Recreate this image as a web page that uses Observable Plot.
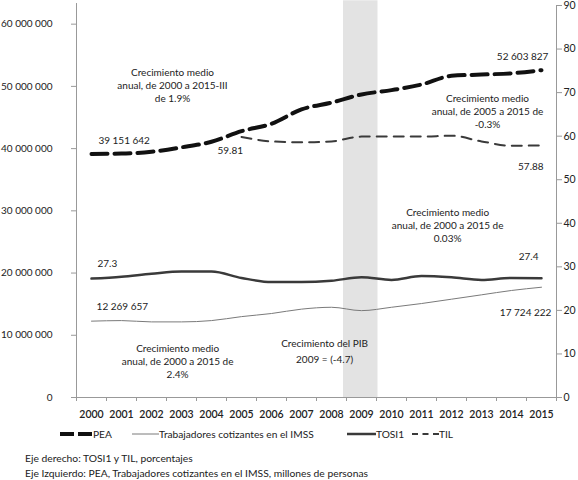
<!DOCTYPE html>
<html>
<head>
<meta charset="utf-8">
<script src="https://cdn.jsdelivr.net/npm/d3@7"></script>
<script src="https://cdn.jsdelivr.net/npm/@observablehq/plot@0.6"></script>
<style>
  body { margin: 0; background: #fff; }
  #wrap { position: relative; width: 578px; height: 480px; font-family: Lato, "Gill Sans", sans-serif; color: #222; }
  #legend { position: absolute; left: 0; top: 425px; width: 578px; height: 18px; font-size: 10.2px; }
  #legend .item { position: absolute; top: 0; height: 18px; display: flex; align-items: center; }
  #legend svg { display: block; }
  .note { position: absolute; left: 25px; font-size: 10.3px; line-height: 12px; white-space: nowrap; }
</style>
</head>
<body>
<div id="wrap">
  <div id="chart"></div>
  <div id="legend"></div>
  <div class="note" style="top:452px">Eje derecho: TOSI1 y TIL, porcentajes</div>
  <div class="note" style="top:467px">Eje Izquierdo: PEA, Trabajadores cotizantes en el IMSS, millones de personas</div>
</div>
<script>
// ---- data ----
const years = [2000, 2001, 2002, 2003, 2004, 2005, 2006, 2007, 2008, 2009, 2010, 2011, 2012, 2013, 2014, 2015];
const pea   = [39151642, 39200000, 39500000, 40200000, 41100000, 42800000, 44000000, 46300000, 47400000, 48700000, 49400000, 50300000, 51700000, 51900000, 52100000, 52603827];
const imss  = [12269657, 12360000, 12150000, 12150000, 12360000, 13000000, 13500000, 14200000, 14500000, 13960000, 14500000, 15100000, 15800000, 16500000, 17200000, 17724222];
const tosi1 = [27.3, 27.75, 28.4, 28.9, 28.9, 27.45, 26.5, 26.5, 26.8, 27.6, 27.0, 27.9, 27.6, 27.0, 27.45, 27.4];
const tilYears = [2005, 2006, 2007, 2008, 2009, 2010, 2011, 2012, 2013, 2014, 2015];
const til   = [59.81, 58.8, 58.6, 58.8, 59.9, 59.9, 59.9, 60.1, 58.8, 57.8, 57.88];
const leftTicks  = [0, 10000000, 20000000, 30000000, 40000000, 50000000, 60000000];
const rightTicks = [0, 10, 20, 30, 40, 50, 60, 70, 80, 90];
const shadeYear = 2009;
const seriesNames = ["PEA", "Trabajadores cotizantes en el IMSS", "TOSI1", "TIL"];
const notes = [
  "Crecimiento medio\nanual, de 2000 a 2015-III\nde 1.9%",
  "39 151 642",
  "59.81",
  "52 603 827",
  "Crecimiento medio\nanual, de 2005 a 2015 de\n-0.3%",
  "57.88",
  "Crecimiento medio\nanual, de 2000 a 2015 de\n0.03%",
  "27.4",
  "27.3",
  "12 269 657",
  "17 724 222",
  "Crecimiento medio\nanual, de 2000 a 2015 de\n2.4%",
  "Crecimiento del PIB\n2009 = (-4.7)"
];

// ---- layout (annotation anchors in data units) ----
const noteLayout = [
  {x: 2002.7, y: 50.3e6, a: "middle"},
  {x: 2000.23, y: 41.4e6, a: "start"},
  {x: 2004.2, y: 39.8e6, a: "start"},
  {x: 2015.23, y: 54.96e6, a: "end"},
  {x: 2013.2, y: 46.1e6, a: "middle"},
  {x: 2015.07, y: 37.3e6, a: "end"},
  {x: 2011.87, y: 27.8e6, a: "middle"},
  {x: 2014.9, y: 22.8e6, a: "end"},
  {x: 2000.2, y: 21.6e6, a: "start"},
  {x: 2000.17, y: 14.8e6, a: "start"},
  {x: 2015.33, y: 13.8e6, a: "end"},
  {x: 2002.87, y: 5.83e6, a: "middle"},
  {x: 2007.77, y: 7.7e6, a: "middle", lh: 1.6}
];

const FONT = 'Lato, "Gill Sans", sans-serif';
const YMAX = 63e6;
const R = YMAX / 90; // right-axis unit in left-axis units
const fmt = d => d3.format(",")(d).replace(/,/g, " ");

const peaRows = years.map((x, i) => ({x, y: pea[i]}));
const imssRows = years.map((x, i) => ({x, y: imss[i]}));
const tosiRows = years.map((x, i) => ({x, y: tosi1[i] * R}));
const tilRows = tilYears.map((x, i) => ({x, y: til[i] * R}));
const noteRows = notes.map((t, i) => ({t, ...noteLayout[i]}));
const bounds = years.map(y => y - 0.5).concat([years[years.length - 1] + 0.5]);
const x0 = years[0] - 0.5, x1 = years[years.length - 1] + 0.5;

const chart = Plot.plot({
  width: 578,
  height: 425,
  marginLeft: 76,
  marginRight: 22,
  marginTop: 5,
  marginBottom: 28,
  style: {fontFamily: FONT, color: "#222", background: "#fff"},
  x: {domain: [x0, x1], axis: null},
  y: {domain: [0, YMAX], axis: null},
  marks: [
    Plot.rect([shadeYear], {x1: d => d - 0.6, x2: d => d + 0.55, y1: 0, y2: YMAX * 1.012, fill: "#e3e3e3"}),
    Plot.ruleX([x0], {y1: 0, y2: YMAX * 1.005, stroke: "#999"}),
    Plot.ruleX([x1], {y1: 0, y2: YMAX, stroke: "#999"}),
    Plot.ruleY([0], {stroke: "#999"}),
    Plot.axisY({ticks: leftTicks, anchor: "left", tickSize: 5, tickPadding: 19, tickFormat: fmt, stroke: "#999", fill: "#222", fontSize: 10, label: null}),
    Plot.axisY({ticks: rightTicks.map(v => v * R), anchor: "right", tickSize: 5, tickPadding: 2, tickFormat: d => Math.round(d / R), stroke: "#999", fill: "#222", fontSize: 10.5, label: null}),
    Plot.axisX({ticks: bounds, anchor: "bottom", tickSize: 4, tickFormat: () => "", stroke: "#999", label: null}),
    Plot.axisX({ticks: years, anchor: "bottom", tickSize: 0, tickPadding: 13.5, tickFormat: d => String(d), fill: "#222", fontSize: 10.5, fontWeight: 600, label: null}),
    Plot.line(imssRows, {x: "x", y: "y", stroke: "#7a7a7a", strokeWidth: 1, curve: "monotone-x"}),
    Plot.line(tosiRows, {x: "x", y: "y", stroke: "#3a3a3a", strokeWidth: 2.5, curve: "monotone-x"}),
    Plot.line(tilRows, {x: "x", y: "y", stroke: "#3a3a3a", strokeWidth: 2, strokeDasharray: "10,7", curve: "monotone-x"}),
    Plot.line(peaRows, {x: "x", y: "y", stroke: "#111", strokeWidth: 4, strokeDasharray: "16,7", curve: "monotone-x"}),
    ...noteRows.map(d => Plot.text([d], {x: "x", y: "y", text: "t", textAnchor: d.a, lineAnchor: "middle", lineHeight: d.lh || 1.3, fontSize: 10, fill: "#222"}))
  ]
});
document.getElementById("chart").appendChild(chart);

// ---- legend ----
const legendItems = [
  {name: seriesNames[0], left: 60, w: 33, stroke: "#111", sw: 4, dash: "14,4"},
  {name: seriesNames[1], left: 132, w: 27, stroke: "#7a7a7a", sw: 1, dash: null},
  {name: seriesNames[2], left: 347, w: 29, stroke: "#3a3a3a", sw: 2.5, dash: null},
  {name: seriesNames[3], left: 412, w: 27, stroke: "#3a3a3a", sw: 2, dash: "6,4.5"}
];
const legend = document.getElementById("legend");
legendItems.forEach(it => {
  const div = document.createElement("div");
  div.className = "item";
  div.style.left = it.left + "px";
  div.innerHTML = `<svg width="${it.w}" height="18"><line x1="0" x2="${it.w}" y1="9" y2="9" stroke="${it.stroke}" stroke-width="${it.sw}" ${it.dash ? `stroke-dasharray="${it.dash}"` : ""}/></svg><span>${it.name}</span>`;
  legend.appendChild(div);
});
</script>
</body>
</html>
